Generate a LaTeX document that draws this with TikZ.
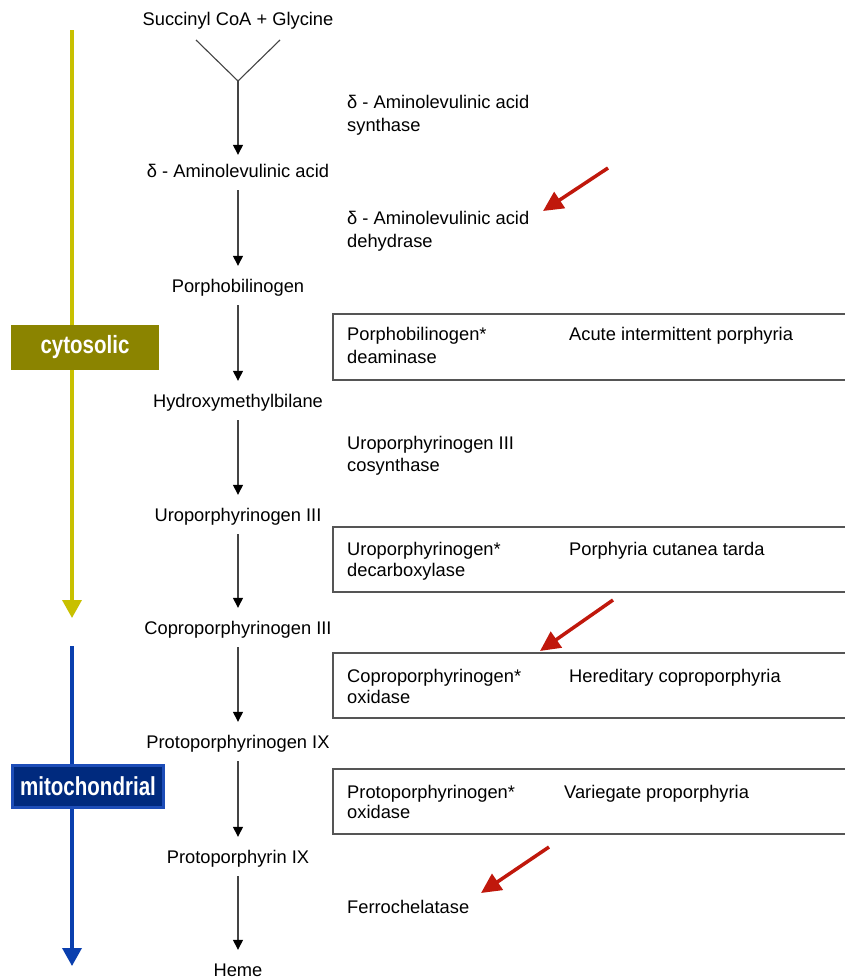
\documentclass[tikz,border=0pt]{standalone}
\usepackage{fontspec}
\setmainfont{Liberation Sans}
\usepackage{graphicx}
\usetikzlibrary{arrows.meta}
\definecolor{ylw}{HTML}{C8C000}
\definecolor{cytofill}{HTML}{8B8400}
\definecolor{blu}{HTML}{0A3FAE}
\definecolor{mitofill}{HTML}{002A7E}
\definecolor{mitoedge}{HTML}{1D4DB8}
\definecolor{redarr}{HTML}{C0180C}
\definecolor{linegray}{HTML}{555555}
\definecolor{flowgray}{HTML}{444444}
\begin{document}
\begin{tikzpicture}[x=1pt,y=-1pt,
  txt/.style={inner sep=0pt, font=\fontsize{18.3}{22}\selectfont},
  mainnode/.style={txt, anchor=base, text height=13pt, text depth=4pt},
  enz/.style={txt, anchor=base west},
  flow/.style={draw=flowgray, line width=1.3pt, -{Triangle[length=10pt,width=10pt,color=black]}, shorten <=9pt, shorten >=13pt},
  infobox/.style={draw=linegray, line width=1.3pt},
  redarrow/.style={draw=redarr, line width=3.5pt, -{Triangle[length=20pt,width=19pt]}},
  compart/.style={line width=3.5pt, -{Triangle[length=18pt,width=19pt]}},
  tag/.style={inner sep=0pt, text=white, font=\bfseries}
]
\useasboundingbox (0,0) rectangle (845,980);
\fill[white] (0,0) rectangle (845,980);

% compartment arrows
\coordinate (ytop) at (72,30);
\coordinate (ybot) at (72,618);
\coordinate (btop) at (72,646);
\coordinate (bbot) at (72,966);
\draw[compart, draw=ylw, fill=ylw] (ytop) -- (ybot);
\draw[compart, draw=blu, fill=blu] (btop) -- (bbot);

\node[tag, fill=cytofill, minimum width=148pt, minimum height=45pt] (cyt) at (85,347.5)
  {\fontsize{25}{25}\selectfont\scalebox{0.82}[1]{cytosolic}};
\node[tag, fill=mitofill, draw=mitoedge, line width=3pt, minimum width=151pt, minimum height=42pt] (mito) at (88,786.5)
  {\fontsize{26}{26}\selectfont\scalebox{0.79}[1]{mitochondrial}};

% main pathway
\node[mainnode] (s0) at (238,25) {Succinyl CoA + Glycine};
\node[mainnode] (s1) at (238,177) {δ - Aminolevulinic acid};
\node[mainnode] (s2) at (238,292) {Porphobilinogen};
\node[mainnode] (s3) at (238,407) {Hydroxymethylbilane};
\node[mainnode] (s4) at (238,521) {Uroporphyrinogen III};
\node[mainnode] (s5) at (238,634) {Coproporphyrinogen III};
\node[mainnode] (s6) at (238,748) {Protoporphyrinogen IX};
\node[mainnode] (s7) at (238,863) {Protoporphyrin IX};
\node[mainnode] (s8) at (238,976) {Heme};

\coordinate (yl) at (196,40);
\coordinate (yr) at (280,40);
\coordinate (yj) at (238,81);
\draw[flowgray, line width=1.1pt] (yl) -- (yj) -- (yr);
\draw[flow, shorten <=0pt, shorten >=9pt] (yj) -- (s1.north);
\draw[flow] (s1.south) -- (s2.north);
\draw[flow] (s2.south) -- (s3.north);
\draw[flow] (s3.south) -- (s4.north);
\draw[flow] (s4.south) -- (s5.north);
\draw[flow] (s5.south) -- (s6.north);
\draw[flow] (s6.south) -- (s7.north);
\draw[flow] (s7.south) -- (s8.north);

% enzymes
\node[enz] (e1a) at (347,108) {δ - Aminolevulinic acid};
\node[enz] (e1b) at (347,131) {synthase};
\node[enz] (e2a) at (347,224) {δ - Aminolevulinic acid};
\node[enz] (e2b) at (347,247) {dehydrase};

\draw[infobox] (333,314) rectangle (850,380);
\node[enz] (b1a) at (347,340) {Porphobilinogen*};
\node[enz] (b1b) at (347,363) {deaminase};
\node[enz] (d1) at (569,340) {Acute intermittent porphyria};

\node[enz] (e3a) at (347,449) {Uroporphyrinogen III};
\node[enz] (e3b) at (347,471) {cosynthase};

\draw[infobox] (333,527) rectangle (850,592);
\node[enz] (b2a) at (347,555) {Uroporphyrinogen*};
\node[enz] (b2b) at (347,576) {decarboxylase};
\node[enz] (d2) at (569,555) {Porphyria cutanea tarda};

\draw[infobox] (333,653) rectangle (850,718);
\node[enz] (b3a) at (347,682) {Coproporphyrinogen*};
\node[enz] (b3b) at (347,703) {oxidase};
\node[enz] (d3) at (569,682) {Hereditary coproporphyria};

\draw[infobox] (333,769) rectangle (850,834);
\node[enz] (b4a) at (347,798) {Protoporphyrinogen*};
\node[enz] (b4b) at (347,818) {oxidase};
\node[enz] (d4) at (564,798) {Variegate proporphyria};

\node[enz] (e9) at (347,913) {Ferrochelatase};

% red arrows
\coordinate (r1s) at (608,168);
\coordinate (r1e) at (543,211);
\coordinate (r2s) at (613,600);
\coordinate (r2e) at (540,651);
\coordinate (r3s) at (549,847);
\coordinate (r3e) at (481,893);
\draw[redarrow, fill=redarr] (r1s) -- (r1e);
\draw[redarrow, fill=redarr] (r2s) -- (r2e);
\draw[redarrow, fill=redarr] (r3s) -- (r3e);
\end{tikzpicture}
\end{document}
